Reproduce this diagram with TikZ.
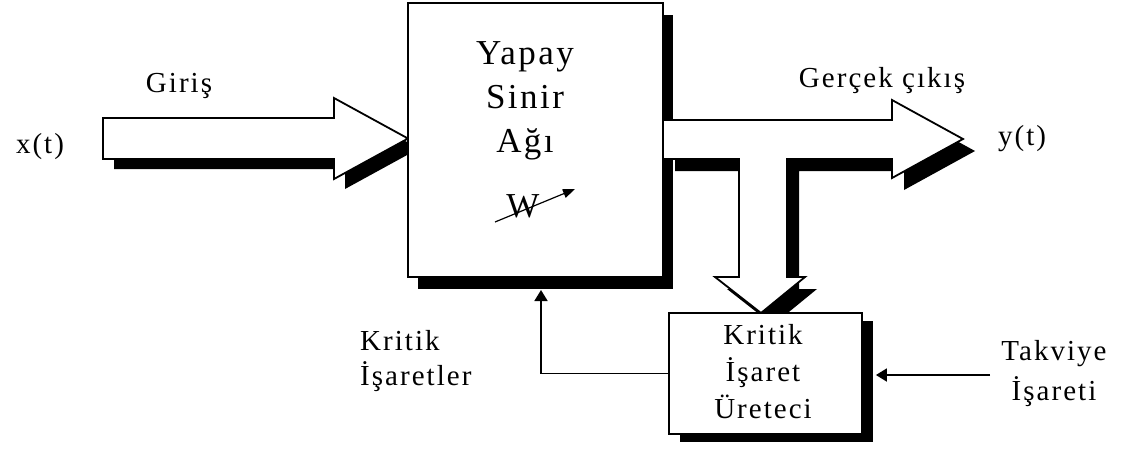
\documentclass[tikz,border=0pt]{standalone}
\usepackage{fontspec}
\setmainfont{Liberation Serif}[LetterSpace=7]
\usetikzlibrary{shadows,arrows.meta}

\tikzset{
  blk/.style={draw=black,line width=1.8pt,fill=white},
  hardshadow/.style 2 args={drop shadow={shadow xshift=#1,shadow yshift=#2,opacity=1,fill=black}},
  sig/.style={line width=1.8pt,-{Triangle[length=11pt,width=13pt]}},
  lbl/.style={inner sep=0pt,anchor=base,font=\fontsize{29}{37}\selectfont},
  big/.style={inner sep=0pt,anchor=base,font=\fontsize{35}{44}\selectfont}
}

\begin{document}
\begin{tikzpicture}[x=1pt,y=-1pt]
  \useasboundingbox (0,0) rectangle (1126,448);
  % input block arrow
  \draw[blk,hardshadow={11pt}{-10pt}] (103,118) -- (334,118) -- (334,98) -- (408,138.5) -- (334,179) -- (334,159) -- (103,159) -- cycle;
  % network
  \node[blk,hardshadow={10pt}{-12pt},minimum width=255pt,minimum height=274pt] (ann) at (535.5,140) {};
  \node[big,align=center] (annlbl) at (525,152) {Yapay\\Sinir\\Ağı};
  \node[big] (wlbl) at (523,217) {W};
  \coordinate (wtail) at (495,222); \coordinate (whead) at (575,189);
  \draw[line width=1.2pt,-{Triangle[length=12pt,width=9pt]}] (wtail) -- (whead);
  % output block arrow with branch
  \draw[blk,hardshadow={12pt}{-12pt}] (663,120) -- (892,120) -- (892,100) -- (963,139) -- (892,178) -- (892,159) -- (787,159) -- (787,277) -- (805,277) -- (761,313) -- (715,277) -- (739,277) -- (739,159) -- (663,159) -- cycle;
  % critic
  \node[blk,hardshadow={11pt}{-8pt},minimum width=193pt,minimum height=121pt] (crit) at (765.5,373.5) {};
  \node[lbl,align=center] (critlbl) at (763,418) {Kritik\\İşaret\\Üreteci};
  % labels
  \node[lbl] (xin) at (40,153) {x(t)};
  \node[lbl] (giris) at (179,92) {Giriş};
  \node[lbl] (gercek) at (882,87) {Gerçek çıkış};
  \node[lbl] (yout) at (1022,145) {y(t)};
  \node[lbl,align=left,anchor=base west,font=\fontsize{29}{35}\selectfont] (kritlbl) at (360,385) {Kritik\\İşaretler};
  \node[lbl,align=center,font=\fontsize{29}{40}\selectfont] (tak) at (1054,400) {Takviye\\İşareti};
  % signals
  \coordinate (annin) at (541,290);
  \coordinate (critin) at ([xshift=13pt,yshift=-1.5pt]crit.east);
  \draw[sig] (crit.west) -| (annin);
  \draw[sig] ([xshift=-11pt]tak.west |- critin) -- (critin);
\end{tikzpicture}
\end{document}
